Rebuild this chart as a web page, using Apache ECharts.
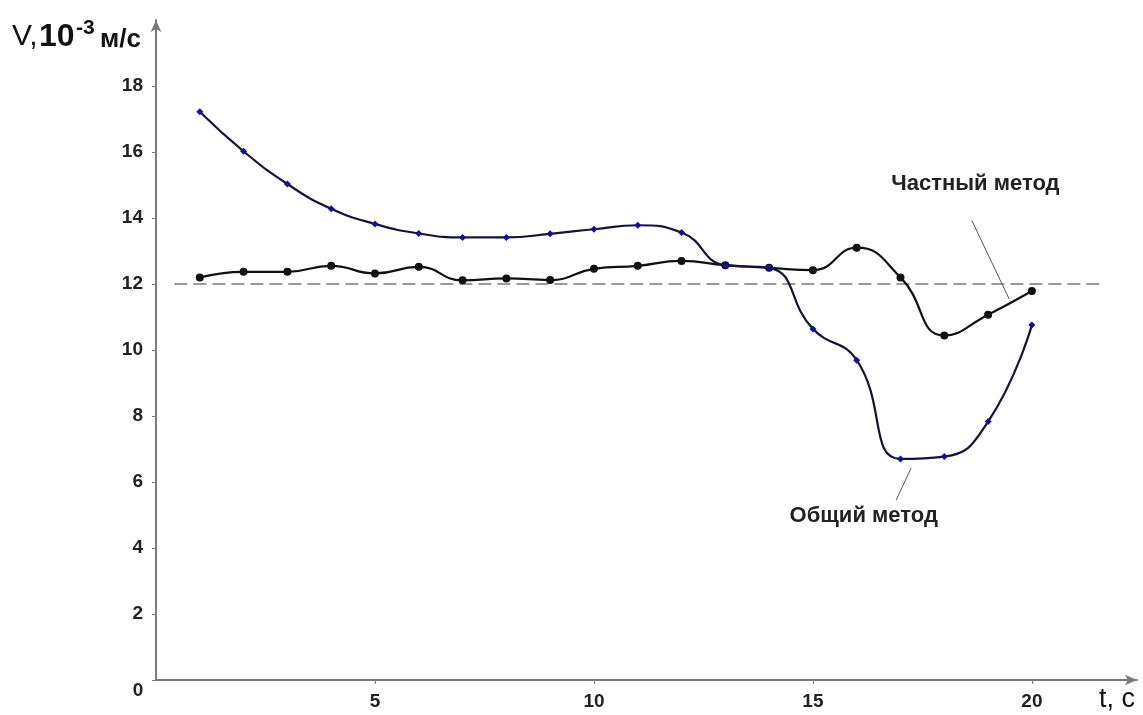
<!DOCTYPE html>
<html>
<head>
<meta charset="utf-8">
<title>V(t)</title>
<script src="https://cdn.jsdelivr.net/npm/echarts@6/dist/echarts.min.js"></script>
<style>
  html, body { margin: 0; padding: 0; background: #fff; }
  #main { width: 1143px; height: 715px; }
</style>
</head>
<body>
<div id="main"></div>
<script>
// время, с
var times = [1, 2, 3, 4, 5, 6, 7, 8, 9, 10, 11, 12, 13, 14, 15, 16, 17, 18, 19, 20];
// Общий метод, V * 10^-3 м/с
var generalMethod = [17.22, 16.02, 15.03, 14.28, 13.82, 13.53, 13.41, 13.41, 13.52, 13.66,
                     13.78, 13.56, 12.57, 12.49, 10.64, 9.69, 6.70, 6.77, 7.83, 10.76];
// Частный метод
var partialMethod = [12.20, 12.37, 12.37, 12.55, 12.32, 12.52, 12.11, 12.17, 12.12, 12.46,
                     12.55, 12.70, 12.57, 12.49, 12.42, 13.10, 12.20, 10.44, 11.07, 11.79];
// уровень 12
var refLevel = 12;
var refFrom = 0.42, refTo = 21.56;
var xLabels = [5, 10, 15, 20];
var yLabels = [2, 4, 6, 8, 10, 12, 14, 16, 18];
var yTicks = [0, 2, 4, 6, 8, 10, 12, 14, 16, 18];
// выноски подписей
var partialLeader = [[18.63, 13.92], [19.48, 11.55]];
var generalLeader = [[17.24, 6.42], [16.90, 5.45]];
var partialLabelAt = [18.71, 15.03];
var generalLabelAt = [16.16, 4.97];

function pairs(xs, ys) {
    var out = [];
    for (var i = 0; i < xs.length; i++) out.push([xs[i], ys[i]]);
    return out;
}

var myChart = echarts.init(document.getElementById('main'));
var font = '"Liberation Sans", Arial, sans-serif';

var option = {
    backgroundColor: '#fff',
    animation: false,
    grid: { left: 156, right: 6, top: 20, bottom: 35 },
    xAxis: {
        type: 'value', min: 0, max: 22.4,
        axisLine: { lineStyle: { color: '#7a7a7a', width: 2 }, symbol: ['none', 'arrow'], symbolSize: [8, 12] },
        axisTick: { length: 4, lineStyle: { color: '#7a7a7a' }, customValues: xLabels },
        axisLabel: { customValues: xLabels, margin: 12, color: '#222', fontWeight: 'bold', fontSize: 19, fontFamily: font },
        splitLine: { show: false }
    },
    yAxis: {
        type: 'value', min: 0, max: 20,
        axisLine: { show: true, lineStyle: { color: '#7a7a7a', width: 2 }, symbol: ['none', 'arrow'], symbolSize: [8, 12] },
        axisTick: { show: true, length: 4, lineStyle: { color: '#7a7a7a' }, customValues: yTicks },
        axisLabel: { customValues: yLabels, margin: 13, color: '#222', fontWeight: 'bold', fontSize: 19, fontFamily: font },
        splitLine: { show: false }
    },
    series: [
        {
            name: 'ref', type: 'line', silent: true, symbol: 'none',
            data: [[refFrom, refLevel], [refTo, refLevel]],
            lineStyle: { color: '#7a7a7a', width: 1.5, type: [13, 6] }
        },
        {
            name: 'Частный метод', type: 'line', smooth: 0.5,
            data: pairs(times, partialMethod),
            symbol: 'circle', symbolSize: 8,
            itemStyle: { color: '#111' },
            lineStyle: { color: '#111', width: 2.2 }
        },
        {
            name: 'Общий метод', type: 'line', smooth: 0.5,
            data: pairs(times, generalMethod),
            symbol: 'diamond', symbolSize: 7,
            itemStyle: { color: '#1010a0' },
            lineStyle: { color: '#141438', width: 2.2 }
        },
        {
            name: 'leader1', type: 'line', silent: true, symbol: 'none',
            data: partialLeader, lineStyle: { color: '#555', width: 1 }
        },
        {
            name: 'leader2', type: 'line', silent: true, symbol: 'none',
            data: generalLeader, lineStyle: { color: '#555', width: 1 }
        }
    ]
};

myChart.setOption(option);

var p1 = myChart.convertToPixel({ gridIndex: 0 }, partialLabelAt);
var p2 = myChart.convertToPixel({ gridIndex: 0 }, generalLabelAt);
var p0 = myChart.convertToPixel({ gridIndex: 0 }, [0, 0]);

myChart.setOption({
    graphic: [
        { type: 'text', x: 12, y: 37, style: { text: 'V,', font: '500 30px ' + font, fill: '#111', verticalAlign: 'middle' } },
        { type: 'text', x: 39, y: 37, style: { text: '10', font: 'bold 32px ' + font, fill: '#111', verticalAlign: 'middle' } },
        { type: 'text', x: 76, y: 28, style: { text: '-3', font: 'bold 21px ' + font, fill: '#111', verticalAlign: 'middle' } },
        { type: 'text', x: 100, y: 40, style: { text: 'м/с', font: 'bold 26px ' + font, fill: '#111', verticalAlign: 'middle' } },
        { type: 'text', x: p0[0] - 18, y: p0[1] + 11, style: { text: '0', font: 'bold 19px ' + font, fill: '#222', align: 'center', verticalAlign: 'middle' } },
        { type: 'text', x: 1117, y: 700, style: { text: 't, c', font: '27px ' + font, fill: '#111', align: 'center', verticalAlign: 'middle' } },
        { type: 'text', x: p1[0], y: p1[1], style: { text: 'Частный метод', font: 'bold 22px ' + font, fill: '#222', align: 'center', verticalAlign: 'middle' } },
        { type: 'text', x: p2[0], y: p2[1], style: { text: 'Общий метод', font: 'bold 22px ' + font, fill: '#222', align: 'center', verticalAlign: 'middle' } }
    ]
});
</script>
</body>
</html>
